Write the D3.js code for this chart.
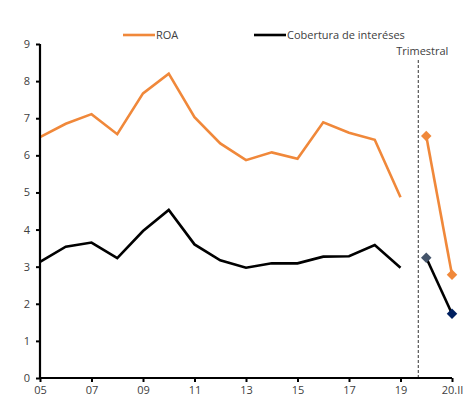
<!DOCTYPE html>
<html>
<head>
<meta charset="utf-8">
<script src="https://cdn.jsdelivr.net/npm/d3@7"></script>
<style>
  body { margin: 0; background: #fff; }
  text { font-family: "Open Sans", "Noto Sans", sans-serif; fill: #404040; }
</style>
</head>
<body>
<div id="chart"></div>
<script>
// categories: annual 05..19, then quarterly 20.I, 20.II
var categories = ['05','06','07','08','09','10','11','12','13','14','15','16','17','18','19','20.I','20.II'];
var tickLabels = ['05','07','09','11','13','15','17','19','20.II'];
var yTicks = [0, 1, 2, 3, 4, 5, 6, 7, 8, 9];

var roaAnnual = [6.49, 6.85, 7.11, 6.57, 7.67, 8.20, 7.03, 6.32, 5.87, 6.08, 5.91, 6.89, 6.61, 6.42, 4.87];
var roaQuarter = [6.52, 2.78];
var covAnnual = [3.13, 3.54, 3.65, 3.23, 3.96, 4.53, 3.60, 3.17, 2.97, 3.09, 3.09, 3.27, 3.28, 3.58, 2.97];
var covQuarter = [3.24, 1.73];
var covMarkerColors = ['#44546a', '#002060'];

var width = 476, height = 403;
var margin = { top: 44, left: 40, right: 24, bottom: 25 };

var svg = d3.select('#chart').append('svg')
  .attr('width', width)
  .attr('height', height);

var x = d3.scalePoint()
  .domain(categories)
  .range([margin.left, width - margin.right]);

var y = d3.scaleLinear()
  .domain([0, 9])
  .range([height - margin.bottom, margin.top]);

var annualCats = categories.slice(0, 15);
var quarterCats = categories.slice(15);

// dashed separator between annual and quarterly
var sepX = x('19') + x.step() * 0.69;
svg.append('line')
  .attr('x1', sepX).attr('x2', sepX)
  .attr('y1', 60).attr('y2', y(0))
  .attr('stroke', '#333')
  .attr('stroke-width', 1)
  .attr('stroke-dasharray', '3,2');

svg.append('text')
  .attr('x', sepX + 4)
  .attr('y', 55)
  .attr('text-anchor', 'middle')
  .style('font-size', '11px')
  .text('Trimestral');

var line = d3.line()
  .x(function (d) { return x(d.c); })
  .y(function (d) { return y(d.v); });

function pairs(cats, vals) {
  return cats.map(function (c, i) { return { c: c, v: vals[i] }; });
}

var series = [
  { name: 'ROA', color: '#f0883a', annual: roaAnnual, quarter: roaQuarter, marks: ['#f0883a', '#f0883a'] },
  { name: 'Cobertura de interéses', color: '#000', annual: covAnnual, quarter: covQuarter, marks: covMarkerColors }
];

var diamond = d3.symbol().type(d3.symbolDiamond2).size(70);

series.forEach(function (s) {
  svg.append('path')
    .attr('d', line(pairs(annualCats, s.annual)))
    .attr('fill', 'none')
    .attr('stroke', s.color)
    .attr('stroke-width', 2.6)
    .attr('stroke-linejoin', 'miter');

  svg.append('path')
    .attr('d', line(pairs(quarterCats, s.quarter)))
    .attr('fill', 'none')
    .attr('stroke', s.color)
    .attr('stroke-width', 2.6);

  svg.selectAll(null)
    .data(pairs(quarterCats, s.quarter))
    .enter().append('path')
    .attr('d', diamond)
    .attr('transform', function (d) { return 'translate(' + x(d.c) + ',' + y(d.v) + ')'; })
    .attr('fill', function (d, i) { return s.marks[i]; });
});

// axes
var yAxis = svg.append('g')
  .attr('transform', 'translate(' + margin.left + ',0)')
  .call(d3.axisLeft(y).tickValues(yTicks).tickSize(4).tickPadding(6).tickFormat(d3.format('d')));

var xAxis = svg.append('g')
  .attr('transform', 'translate(0,' + y(0) + ')')
  .call(d3.axisBottom(x).tickValues(tickLabels).tickSize(4).tickPadding(4));

[yAxis, xAxis].forEach(function (ax) {
  ax.select('.domain').attr('stroke', '#000').attr('stroke-width', 2.2);
  ax.selectAll('.tick line').attr('stroke', '#000').attr('stroke-width', 2);
  ax.selectAll('.tick text').style('font-size', '11px').style('fill', '#404040')
    .style('font-family', '"Open Sans", "Noto Sans", sans-serif');
});
yAxis.select('.domain').attr('d', 'M0,' + y(9) + 'V' + y(0));
xAxis.select('.domain').attr('d', 'M' + margin.left + ',0H' + x('20.II'));

// legend
var legend = [
  { name: 'ROA', color: '#f0883a', x: 123 },
  { name: 'Cobertura de interéses', color: '#000', x: 254 }
];
legend.forEach(function (l) {
  svg.append('line')
    .attr('x1', l.x).attr('x2', l.x + 32)
    .attr('y1', 35).attr('y2', 35)
    .attr('stroke', l.color)
    .attr('stroke-width', 2.6);
  svg.append('text')
    .attr('x', l.x + 33)
    .attr('y', 39)
    .style('font-size', '11px')
    .text(l.name);
});
</script>
</body>
</html>
